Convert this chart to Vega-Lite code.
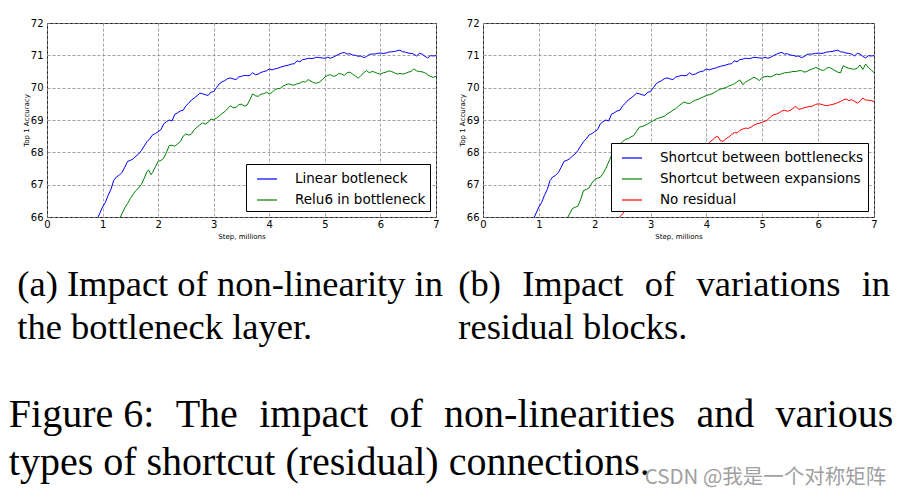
{
"$schema": "https://vega.github.io/schema/vega-lite/v6.json",
"background": "white",
"padding": {"left": 8, "top": 17, "right": 5, "bottom": 5},
"datasets": {
"linear": [{"step":0.85,"acc":65.5},{"step":0.92,"acc":66.0},{"step":1.0,"acc":66.31},{"step":1.05,"acc":66.45},{"step":1.1,"acc":66.67},{"step":1.15,"acc":66.85},{"step":1.2,"acc":67.13},{"step":1.25,"acc":67.24},{"step":1.3,"acc":67.29},{"step":1.35,"acc":67.38},{"step":1.4,"acc":67.54},{"step":1.45,"acc":67.72},{"step":1.5,"acc":67.75},{"step":1.55,"acc":67.8},{"step":1.6,"acc":67.88},{"step":1.65,"acc":67.95},{"step":1.7,"acc":68.06},{"step":1.75,"acc":68.2},{"step":1.8,"acc":68.33},{"step":1.85,"acc":68.42},{"step":1.9,"acc":68.54},{"step":1.95,"acc":68.58},{"step":2.0,"acc":68.64},{"step":2.05,"acc":68.7},{"step":2.1,"acc":68.88},{"step":2.15,"acc":68.95},{"step":2.2,"acc":69.0},{"step":2.25,"acc":68.97},{"step":2.3,"acc":69.18},{"step":2.35,"acc":69.22},{"step":2.4,"acc":69.28},{"step":2.45,"acc":69.3},{"step":2.5,"acc":69.44},{"step":2.55,"acc":69.52},{"step":2.6,"acc":69.62},{"step":2.65,"acc":69.68},{"step":2.7,"acc":69.75},{"step":2.75,"acc":69.83},{"step":2.8,"acc":69.81},{"step":2.85,"acc":69.78},{"step":2.9,"acc":69.76},{"step":2.95,"acc":69.86},{"step":3.0,"acc":69.88},{"step":3.05,"acc":70.0},{"step":3.1,"acc":70.12},{"step":3.15,"acc":70.18},{"step":3.2,"acc":70.22},{"step":3.25,"acc":70.28},{"step":3.3,"acc":70.3},{"step":3.35,"acc":70.27},{"step":3.4,"acc":70.25},{"step":3.45,"acc":70.33},{"step":3.5,"acc":70.35},{"step":3.55,"acc":70.38},{"step":3.6,"acc":70.37},{"step":3.65,"acc":70.38},{"step":3.7,"acc":70.46},{"step":3.75,"acc":70.4},{"step":3.8,"acc":70.42},{"step":3.85,"acc":70.47},{"step":3.9,"acc":70.5},{"step":3.95,"acc":70.52},{"step":4.0,"acc":70.58},{"step":4.05,"acc":70.55},{"step":4.1,"acc":70.58},{"step":4.15,"acc":70.6},{"step":4.2,"acc":70.63},{"step":4.25,"acc":70.66},{"step":4.3,"acc":70.68},{"step":4.35,"acc":70.7},{"step":4.4,"acc":70.73},{"step":4.45,"acc":70.74},{"step":4.5,"acc":70.83},{"step":4.55,"acc":70.8},{"step":4.6,"acc":70.87},{"step":4.65,"acc":70.88},{"step":4.7,"acc":70.91},{"step":4.75,"acc":70.9},{"step":4.8,"acc":70.91},{"step":4.85,"acc":70.94},{"step":4.9,"acc":70.93},{"step":4.95,"acc":70.92},{"step":5.0,"acc":70.91},{"step":5.05,"acc":70.94},{"step":5.1,"acc":70.91},{"step":5.15,"acc":70.94},{"step":5.2,"acc":70.99},{"step":5.25,"acc":71.03},{"step":5.3,"acc":71.07},{"step":5.35,"acc":71.09},{"step":5.4,"acc":71.04},{"step":5.45,"acc":71.05},{"step":5.5,"acc":71.01},{"step":5.55,"acc":71.0},{"step":5.6,"acc":70.97},{"step":5.65,"acc":70.98},{"step":5.7,"acc":70.93},{"step":5.75,"acc":70.96},{"step":5.8,"acc":71.03},{"step":5.85,"acc":71.04},{"step":5.9,"acc":71.04},{"step":5.95,"acc":71.06},{"step":6.0,"acc":71.07},{"step":6.05,"acc":71.06},{"step":6.1,"acc":71.07},{"step":6.15,"acc":71.1},{"step":6.2,"acc":71.11},{"step":6.25,"acc":71.12},{"step":6.3,"acc":71.14},{"step":6.35,"acc":71.16},{"step":6.4,"acc":71.11},{"step":6.45,"acc":71.1},{"step":6.5,"acc":71.07},{"step":6.55,"acc":71.06},{"step":6.6,"acc":71.04},{"step":6.65,"acc":70.98},{"step":6.7,"acc":71.06},{"step":6.75,"acc":71.04},{"step":6.8,"acc":70.97},{"step":6.85,"acc":70.92},{"step":6.9,"acc":70.99},{"step":6.95,"acc":70.98},{"step":7.0,"acc":70.99}],
"relu6": [{"step":1.25,"acc":65.4},{"step":1.32,"acc":66.0},{"step":1.4,"acc":66.28},{"step":1.45,"acc":66.42},{"step":1.5,"acc":66.57},{"step":1.55,"acc":66.7},{"step":1.6,"acc":66.82},{"step":1.65,"acc":66.9},{"step":1.7,"acc":67.01},{"step":1.75,"acc":67.2},{"step":1.8,"acc":67.41},{"step":1.83,"acc":67.45},{"step":1.87,"acc":67.31},{"step":1.9,"acc":67.38},{"step":1.95,"acc":67.55},{"step":2.0,"acc":67.72},{"step":2.05,"acc":67.75},{"step":2.1,"acc":67.82},{"step":2.15,"acc":68.0},{"step":2.2,"acc":68.21},{"step":2.25,"acc":68.22},{"step":2.3,"acc":68.19},{"step":2.35,"acc":68.26},{"step":2.4,"acc":68.33},{"step":2.45,"acc":68.5},{"step":2.5,"acc":68.57},{"step":2.55,"acc":68.53},{"step":2.6,"acc":68.57},{"step":2.65,"acc":68.7},{"step":2.7,"acc":68.78},{"step":2.75,"acc":68.85},{"step":2.8,"acc":68.91},{"step":2.85,"acc":68.87},{"step":2.9,"acc":68.93},{"step":2.95,"acc":69.03},{"step":3.0,"acc":69.01},{"step":3.05,"acc":69.06},{"step":3.1,"acc":69.13},{"step":3.15,"acc":69.2},{"step":3.2,"acc":69.26},{"step":3.25,"acc":69.35},{"step":3.3,"acc":69.44},{"step":3.35,"acc":69.38},{"step":3.4,"acc":69.39},{"step":3.45,"acc":69.47},{"step":3.5,"acc":69.49},{"step":3.55,"acc":69.43},{"step":3.6,"acc":69.46},{"step":3.65,"acc":69.62},{"step":3.7,"acc":69.81},{"step":3.75,"acc":69.75},{"step":3.8,"acc":69.73},{"step":3.85,"acc":69.8},{"step":3.9,"acc":69.81},{"step":3.95,"acc":69.86},{"step":4.0,"acc":69.81},{"step":4.05,"acc":69.85},{"step":4.1,"acc":69.94},{"step":4.15,"acc":69.97},{"step":4.2,"acc":69.98},{"step":4.25,"acc":70.05},{"step":4.3,"acc":70.09},{"step":4.35,"acc":70.12},{"step":4.4,"acc":70.09},{"step":4.45,"acc":70.08},{"step":4.5,"acc":70.12},{"step":4.55,"acc":70.14},{"step":4.6,"acc":70.19},{"step":4.65,"acc":70.17},{"step":4.7,"acc":70.25},{"step":4.75,"acc":70.2},{"step":4.8,"acc":70.15},{"step":4.85,"acc":70.14},{"step":4.9,"acc":70.17},{"step":4.95,"acc":70.24},{"step":5.0,"acc":70.33},{"step":5.05,"acc":70.38},{"step":5.1,"acc":70.4},{"step":5.15,"acc":70.35},{"step":5.2,"acc":70.37},{"step":5.25,"acc":70.44},{"step":5.3,"acc":70.42},{"step":5.35,"acc":70.38},{"step":5.4,"acc":70.46},{"step":5.45,"acc":70.48},{"step":5.5,"acc":70.42},{"step":5.55,"acc":70.36},{"step":5.6,"acc":70.29},{"step":5.65,"acc":70.38},{"step":5.7,"acc":70.46},{"step":5.75,"acc":70.53},{"step":5.8,"acc":70.46},{"step":5.85,"acc":70.5},{"step":5.9,"acc":70.48},{"step":5.95,"acc":70.44},{"step":6.0,"acc":70.42},{"step":6.05,"acc":70.46},{"step":6.1,"acc":70.48},{"step":6.15,"acc":70.52},{"step":6.2,"acc":70.5},{"step":6.25,"acc":70.46},{"step":6.3,"acc":70.42},{"step":6.35,"acc":70.44},{"step":6.4,"acc":70.42},{"step":6.45,"acc":70.44},{"step":6.5,"acc":70.48},{"step":6.55,"acc":70.5},{"step":6.6,"acc":70.58},{"step":6.65,"acc":70.52},{"step":6.7,"acc":70.5},{"step":6.75,"acc":70.49},{"step":6.8,"acc":70.46},{"step":6.85,"acc":70.4},{"step":6.9,"acc":70.35},{"step":6.95,"acc":70.32},{"step":7.0,"acc":70.35}],
"expansions": [{"step":1.45,"acc":65.5},{"step":1.52,"acc":66.0},{"step":1.6,"acc":66.26},{"step":1.65,"acc":66.3},{"step":1.7,"acc":66.34},{"step":1.75,"acc":66.55},{"step":1.8,"acc":66.82},{"step":1.85,"acc":66.85},{"step":1.9,"acc":66.9},{"step":1.95,"acc":67.05},{"step":2.0,"acc":67.16},{"step":2.05,"acc":67.2},{"step":2.1,"acc":67.23},{"step":2.15,"acc":67.35},{"step":2.2,"acc":67.51},{"step":2.25,"acc":67.7},{"step":2.3,"acc":67.9},{"step":2.35,"acc":68.05},{"step":2.4,"acc":68.21},{"step":2.45,"acc":68.25},{"step":2.5,"acc":68.33},{"step":2.55,"acc":68.4},{"step":2.6,"acc":68.42},{"step":2.65,"acc":68.48},{"step":2.7,"acc":68.52},{"step":2.75,"acc":68.65},{"step":2.8,"acc":68.78},{"step":2.85,"acc":68.8},{"step":2.9,"acc":68.83},{"step":2.95,"acc":68.88},{"step":3.0,"acc":68.93},{"step":3.05,"acc":68.98},{"step":3.1,"acc":69.03},{"step":3.15,"acc":69.06},{"step":3.2,"acc":69.09},{"step":3.25,"acc":69.12},{"step":3.3,"acc":69.19},{"step":3.35,"acc":69.24},{"step":3.4,"acc":69.3},{"step":3.45,"acc":69.35},{"step":3.5,"acc":69.43},{"step":3.55,"acc":69.5},{"step":3.6,"acc":69.56},{"step":3.65,"acc":69.52},{"step":3.7,"acc":69.51},{"step":3.75,"acc":69.57},{"step":3.8,"acc":69.61},{"step":3.85,"acc":69.64},{"step":3.9,"acc":69.68},{"step":3.95,"acc":69.72},{"step":4.0,"acc":69.76},{"step":4.05,"acc":69.78},{"step":4.1,"acc":69.81},{"step":4.15,"acc":69.86},{"step":4.2,"acc":69.91},{"step":4.25,"acc":69.95},{"step":4.3,"acc":69.98},{"step":4.35,"acc":70.0},{"step":4.4,"acc":70.05},{"step":4.45,"acc":70.08},{"step":4.5,"acc":70.12},{"step":4.55,"acc":70.18},{"step":4.6,"acc":70.24},{"step":4.65,"acc":70.09},{"step":4.7,"acc":70.17},{"step":4.75,"acc":70.22},{"step":4.8,"acc":70.27},{"step":4.85,"acc":70.32},{"step":4.9,"acc":70.28},{"step":4.95,"acc":70.22},{"step":5.0,"acc":70.32},{"step":5.05,"acc":70.34},{"step":5.1,"acc":70.35},{"step":5.15,"acc":70.33},{"step":5.2,"acc":70.37},{"step":5.25,"acc":70.42},{"step":5.3,"acc":70.4},{"step":5.35,"acc":70.43},{"step":5.4,"acc":70.46},{"step":5.45,"acc":70.47},{"step":5.5,"acc":70.48},{"step":5.55,"acc":70.5},{"step":5.6,"acc":70.5},{"step":5.65,"acc":70.52},{"step":5.7,"acc":70.53},{"step":5.75,"acc":70.48},{"step":5.8,"acc":70.5},{"step":5.85,"acc":70.55},{"step":5.9,"acc":70.58},{"step":5.95,"acc":70.62},{"step":6.0,"acc":70.6},{"step":6.05,"acc":70.55},{"step":6.1,"acc":70.53},{"step":6.15,"acc":70.6},{"step":6.2,"acc":70.63},{"step":6.25,"acc":70.58},{"step":6.3,"acc":70.53},{"step":6.35,"acc":70.48},{"step":6.4,"acc":70.46},{"step":6.45,"acc":70.68},{"step":6.5,"acc":70.63},{"step":6.55,"acc":70.6},{"step":6.6,"acc":70.58},{"step":6.65,"acc":70.57},{"step":6.7,"acc":70.6},{"step":6.75,"acc":70.7},{"step":6.8,"acc":70.56},{"step":6.85,"acc":70.73},{"step":6.9,"acc":70.62},{"step":6.95,"acc":70.55},{"step":7.0,"acc":70.46}],
"noresidual": [{"step":2.4,"acc":65.6},{"step":2.45,"acc":66.0},{"step":2.5,"acc":66.1},{"step":2.55,"acc":66.22},{"step":2.6,"acc":66.33},{"step":2.8,"acc":66.75},{"step":3.0,"acc":67.1},{"step":3.2,"acc":67.4},{"step":3.4,"acc":67.65},{"step":3.6,"acc":67.85},{"step":3.8,"acc":68.05},{"step":4.0,"acc":68.22},{"step":4.05,"acc":68.3},{"step":4.1,"acc":68.37},{"step":4.15,"acc":68.45},{"step":4.2,"acc":68.5},{"step":4.25,"acc":68.36},{"step":4.3,"acc":68.34},{"step":4.35,"acc":68.42},{"step":4.4,"acc":68.47},{"step":4.45,"acc":68.55},{"step":4.5,"acc":68.61},{"step":4.55,"acc":68.6},{"step":4.6,"acc":68.68},{"step":4.65,"acc":68.72},{"step":4.7,"acc":68.75},{"step":4.75,"acc":68.74},{"step":4.8,"acc":68.78},{"step":4.85,"acc":68.84},{"step":4.9,"acc":68.88},{"step":4.95,"acc":68.9},{"step":5.0,"acc":68.93},{"step":5.05,"acc":68.96},{"step":5.1,"acc":69.01},{"step":5.15,"acc":69.1},{"step":5.2,"acc":69.16},{"step":5.25,"acc":69.18},{"step":5.3,"acc":69.22},{"step":5.35,"acc":69.28},{"step":5.4,"acc":69.3},{"step":5.45,"acc":69.27},{"step":5.5,"acc":69.3},{"step":5.55,"acc":69.36},{"step":5.6,"acc":69.43},{"step":5.65,"acc":69.33},{"step":5.7,"acc":69.35},{"step":5.75,"acc":69.38},{"step":5.8,"acc":69.4},{"step":5.85,"acc":69.42},{"step":5.9,"acc":69.43},{"step":5.95,"acc":69.48},{"step":6.0,"acc":69.5},{"step":6.05,"acc":69.49},{"step":6.1,"acc":69.46},{"step":6.15,"acc":69.44},{"step":6.2,"acc":69.46},{"step":6.25,"acc":69.48},{"step":6.3,"acc":69.5},{"step":6.35,"acc":69.54},{"step":6.4,"acc":69.57},{"step":6.45,"acc":69.62},{"step":6.5,"acc":69.65},{"step":6.55,"acc":69.6},{"step":6.6,"acc":69.63},{"step":6.65,"acc":69.58},{"step":6.7,"acc":69.52},{"step":6.75,"acc":69.58},{"step":6.8,"acc":69.68},{"step":6.85,"acc":69.62},{"step":6.9,"acc":69.61},{"step":6.95,"acc":69.6},{"step":7.0,"acc":69.57}]
},
"config": {
  "view": {"stroke": "#1a1a1a", "strokeWidth": 1},
  "axis": {"domain": false, "grid": true, "gridColor": "#8c8c8c", "gridDash": [3, 2], "gridWidth": 0.8, "labelFont": "DejaVu Sans", "labelFontSize": 10, "labelColor": "#000", "titleFont": "DejaVu Sans", "titleFontSize": 7, "titleFontWeight": "normal", "titleColor": "#000", "ticks": false, "labelOverlap": false, "labelFlush": false, "format": "d"},
  "axisX": {"labelPadding": 2, "titlePadding": 3},
  "axisY": {"labelPadding": 4, "titlePadding": 1},
  "legend": {"orient": "bottom-right", "offset": 6.5, "fillColor": "white", "strokeColor": "#000", "padding": 4, "symbolOffset": 6, "symbolType": "stroke", "symbolSize": 400, "symbolStrokeWidth": 1.2, "labelFont": "DejaVu Sans", "labelFontSize": 13.5, "labelColor": "#000", "labelOffset": 17, "rowPadding": 3, "cornerRadius": 0, "labelLimit": 400}
},
"title": {"text": "CSDN @我是一个对称矩阵", "orient": "bottom", "anchor": "end", "font": "Noto Sans CJK SC", "fontSize": 20.5, "fontWeight": "normal", "color": "#a0a0a0", "offset": -15, "dx": -7},
"vconcat": [
{
  "title": {"text": ["Figure 6:\u2004\u2009The\u2004\u2009impact\u2004\u2009of\u2004\u2009non-linearities\u2004\u2009and\u2004\u2009various", "types of shortcut (residual) connections."], "orient": "bottom", "anchor": "start", "font": "Liberation Serif", "fontSize": 40, "fontWeight": "normal", "color": "#000", "lineHeight": 48, "offset": 48, "dx": -8},
  "spacing": 13,
  "resolve": {"scale": {"color": "independent"}, "legend": {"color": "independent"}},
  "hconcat": [
  {
    "width": 389, "height": 194,
    "title": {"text": ["(a) Impact of non-linearity in", "the bottleneck layer."], "orient": "bottom", "anchor": "start", "font": "Liberation Serif", "fontSize": 36.5, "fontWeight": "normal", "color": "#000", "lineHeight": 43, "offset": 28, "dx": -5},
    "encoding": {
      "x": {"field": "step", "type": "quantitative", "scale": {"domain": [0, 7], "nice": false}, "axis": {"values": [0,1,2,3,4,5,6,7], "title": "Step, millions"}},
      "y": {"field": "acc", "type": "quantitative", "scale": {"domain": [66, 72], "nice": false, "zero": false}, "axis": {"values": [66,67,68,69,70,71,72], "title": "Top 1 Accuracy"}}
    },
    "layer": [
      {"data": {"name": "linear"}, "mark": {"type": "line", "clip": true, "strokeWidth": 1},
       "encoding": {"color": {"datum": "Linear botleneck", "scale": {"domain": ["Linear botleneck", "Relu6 in bottleneck"], "range": ["#0000ff", "#008000"]}, "legend": {"title": null}}}},
      {"data": {"name": "relu6"}, "mark": {"type": "line", "clip": true, "strokeWidth": 1},
       "encoding": {"color": {"datum": "Relu6 in bottleneck"}}}
    ]
  },
  {
    "width": 391, "height": 194,
    "title": {"text": ["(b)\u2004\u2005Impact\u2004\u2005of\u2004\u2005variations\u2004\u2005in", "residual blocks."], "orient": "bottom", "anchor": "start", "font": "Liberation Serif", "fontSize": 36.5, "fontWeight": "normal", "color": "#000", "lineHeight": 43, "offset": 28, "dx": 0},
    "encoding": {
      "x": {"field": "step", "type": "quantitative", "scale": {"domain": [0, 7], "nice": false}, "axis": {"values": [0,1,2,3,4,5,6,7], "title": "Step, millions"}},
      "y": {"field": "acc", "type": "quantitative", "scale": {"domain": [66, 72], "nice": false, "zero": false}, "axis": {"values": [66,67,68,69,70,71,72], "title": "Top 1 Accuracy"}}
    },
    "layer": [
      {"data": {"name": "linear"}, "mark": {"type": "line", "clip": true, "strokeWidth": 1},
       "encoding": {"color": {"datum": "Shortcut between bottlenecks", "scale": {"domain": ["Shortcut between bottlenecks", "Shortcut between expansions", "No residual"], "range": ["#0000ff", "#008000", "#ff0000"]}, "legend": {"title": null}}}},
      {"data": {"name": "expansions"}, "mark": {"type": "line", "clip": true, "strokeWidth": 1},
       "encoding": {"color": {"datum": "Shortcut between expansions"}}},
      {"data": {"name": "noresidual"}, "mark": {"type": "line", "clip": true, "strokeWidth": 1},
       "encoding": {"color": {"datum": "No residual"}}}
    ]
  }
  ]
}
]
}
